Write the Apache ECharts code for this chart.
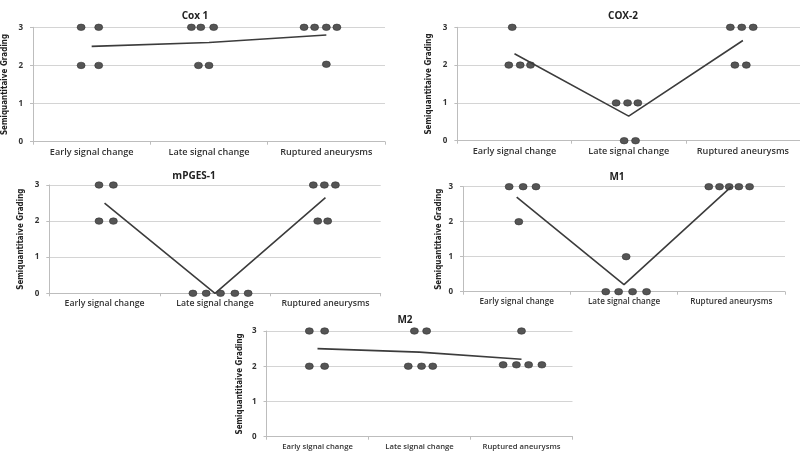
<!DOCTYPE html>
<html><head><meta charset="utf-8">
<script src="https://cdn.jsdelivr.net/npm/echarts@6/dist/echarts.min.js"></script>
<style>html,body{margin:0;padding:0;background:#fff}#c{width:800px;height:455px}</style>
</head><body><div id="c"></div>
<script>
// ---- data ----
const categories = ['Early signal change', 'Late signal change', 'Ruptured aneurysms'];
const yTicks = [0, 1, 2, 3];
const panelTitles = ['Cox 1', 'COX-2', 'mPGES-1', 'M1', 'M2'];
const yAxisTitle = 'Semiquantitaive Grading';

// dot x in category units (category centres at 0.5, 1.5, 2.5), grade as y
const cox1DotX     = [0.41, 0.56, 0.41, 0.56, 1.35, 1.43, 1.54, 1.41, 1.50, 2.31, 2.40, 2.50, 2.59, 2.50];
const cox1DotGrade = [3, 3, 2, 2, 3, 3, 3, 2, 2, 3, 3, 3, 3, 2.03];
const cox1Means    = [2.5, 2.6, 2.8];

const cox2DotX     = [0.48, 0.45, 0.55, 0.64, 1.39, 1.49, 1.58, 1.46, 1.56, 2.39, 2.49, 2.59, 2.43, 2.53];
const cox2DotGrade = [3, 2, 2, 2, 1, 1, 1, 0, 0, 3, 3, 3, 2, 2];
const cox2Means    = [2.3, 0.65, 2.65];

const mpgesDotX     = [0.45, 0.58, 0.45, 0.58, 1.30, 1.42, 1.55, 1.68, 1.80, 2.39, 2.49, 2.59, 2.43, 2.52];
const mpgesDotGrade = [3, 3, 2, 2, 0, 0, 0, 0, 0, 3, 3, 3, 2, 2];
const mpgesMeans    = [2.5, 0, 2.65];

const m1DotX     = [0.43, 0.56, 0.68, 0.52, 1.52, 1.33, 1.45, 1.58, 1.71, 2.29, 2.39, 2.48, 2.57, 2.67];
const m1DotGrade = [3, 3, 3, 2, 1, 0, 0, 0, 0, 3, 3, 3, 3, 3];
const m1Means    = [2.7, 0.2, 3.0];

const m2DotX     = [0.42, 0.57, 0.42, 0.57, 1.45, 1.57, 1.39, 1.52, 1.63, 2.50, 2.32, 2.45, 2.57, 2.70];
const m2DotGrade = [3, 3, 2, 2, 3, 3, 2, 2, 2, 3, 2.04, 2.04, 2.04, 2.04];
const m2Means    = [2.5, 2.4, 2.2];

const panelDots  = [[cox1DotX, cox1DotGrade], [cox2DotX, cox2DotGrade], [mpgesDotX, mpgesDotGrade], [m1DotX, m1DotGrade], [m2DotX, m2DotGrade]];
const panelMeans = [cox1Means, cox2Means, mpgesMeans, m1Means, m2Means];

// ---- layout (pixels) ----
const layouts = [
  { left: 32.7,  top: 27.3,  width: 352.3, height: 114.4, nameGap: 24, titleX: 190, titleY: 13,  labelSize: 9.1 },
  { left: 457.4, top: 27.3,  width: 346,   height: 113.4, nameGap: 24, titleX: 618, titleY: 13,  labelSize: 9.1 },
  { left: 49.3,  top: 185,   width: 331.4, height: 108.3, nameGap: 24, titleX: 189, titleY: 173, labelSize: 8.7 },
  { left: 463,   top: 186.7, width: 322,   height: 105,   nameGap: 20, titleX: 612, titleY: 174, labelSize: 8.1 },
  { left: 266.5, top: 331,   width: 306,   height: 105.7, nameGap: 23, titleX: 400, titleY: 317, labelSize: 7.7 }
];

const font = '"Open Sans", sans-serif';
const grid = [], xAxis = [], yAxis = [], series = [], title = [];
layouts.forEach((L, i) => {
  grid.push({ left: L.left, top: L.top, width: L.width, height: L.height, containLabel: false });
  title.push({
    text: panelTitles[i], left: L.titleX, top: L.titleY - 7, textAlign: 'center',
    textStyle: { fontFamily: font, fontSize: 10, fontWeight: 'bold', color: '#222' }
  });
  xAxis.push({
    type: 'category', gridIndex: i, data: categories, boundaryGap: true,
    axisLine: { show: true, lineStyle: { color: '#bdbdbd', width: 1 } },
    axisTick: { show: true, length: 3, lineStyle: { color: '#bdbdbd' } },
    axisLabel: { interval: 0, fontFamily: font, fontSize: L.labelSize, fontWeight: 600, color: '#333', margin: 6 },
    splitLine: { show: false }
  });
  xAxis.push({ type: 'value', gridIndex: i, min: 0, max: 3, show: false });
  yAxis.push({
    type: 'value', gridIndex: i, min: yTicks[0], max: yTicks[yTicks.length - 1], interval: 1,
    name: yAxisTitle, nameLocation: 'middle', nameGap: L.nameGap, nameRotate: 90,
    nameTextStyle: { fontFamily: '"Liberation Sans Narrow", "DejaVu Sans Condensed", sans-serif', fontSize: 8, fontWeight: 'bold', color: '#222' },
    axisLine: { show: true, lineStyle: { color: '#bdbdbd', width: 1 } },
    axisTick: { show: true, length: 3, lineStyle: { color: '#bdbdbd' } },
    axisLabel: { fontFamily: font, fontSize: 8, fontWeight: 'bold', color: '#333', margin: 10 },
    splitLine: { show: true, lineStyle: { color: '#d4d4d4', width: 1 } }
  });
  const [xs, gs] = panelDots[i];
  series.push({
    type: 'scatter', xAxisIndex: 2 * i + 1, yAxisIndex: i,
    data: xs.map((x, k) => [x, gs[k]]),
    symbol: 'circle', symbolSize: [8, 6.5],
    itemStyle: { color: '#555', borderColor: '#333', borderWidth: 0.6, opacity: 1 },
    silent: true, z: 2
  });
  series.push({
    type: 'line', xAxisIndex: 2 * i, yAxisIndex: i,
    data: panelMeans[i], symbol: 'none',
    lineStyle: { color: '#3c3c3c', width: 1.6 },
    silent: true, z: 3
  });
});

const chart = echarts.init(document.getElementById('c'), null, { renderer: 'canvas' });
chart.setOption({ backgroundColor: '#fff', animation: false, title, grid, xAxis, yAxis, series });
</script>
</body></html>
